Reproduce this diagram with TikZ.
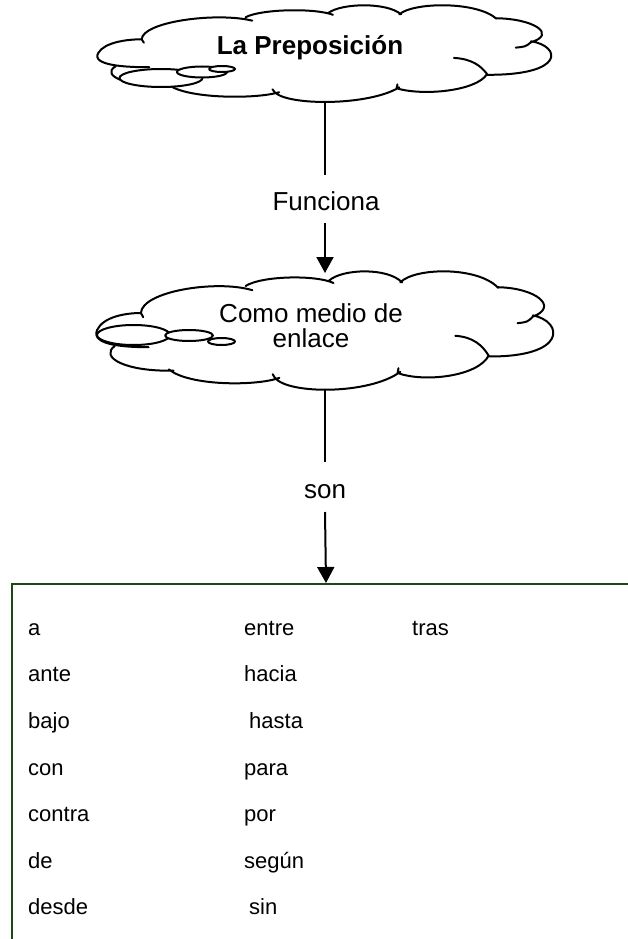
\documentclass[tikz,border=0pt]{standalone}
\usepackage{fontspec}
\setmainfont{Liberation Sans}
\usetikzlibrary{arrows.meta}
\definecolor{boxgreen}{RGB}{28,72,20}
\tikzset{
  cloudline/.style={line width=2pt, black, line join=round, line cap=round},
  conn/.style={line width=2pt, black},
  arr/.style={conn, -{Triangle[width=17pt,length=16pt]}},
  lbl/.style={font=\fontsize{26}{30}\selectfont, inner sep=0pt, anchor=base},
  word/.style={font=\fontsize{22}{26}\selectfont, inner sep=0pt, anchor=base west},
  bubble/.style={cloudline, fill=white},
}
\newcommand{\mycloudpath}{%
  (0.11,0.635) .. controls (0.06,0.635) and (-0.02,0.62) .. (-0.004,0.49)
   .. controls (0.01,0.38) and (0.06,0.35) .. (0.093,0.35)
  (0.093,0.35) -- (0.098,0.385)
  (0.093,0.35) .. controls (0.095,0.17) and (0.26,0.07) .. (0.34,0.16)
  (0.325,0.125) .. controls (0.36,0.04) and (0.48,0.03) .. (0.52,0.10)
  (0.51,0.08) .. controls (0.54,-0.02) and (0.64,-0.03) .. (0.672,0.095)
  (0.668,0.095) .. controls (0.70,-0.03) and (0.84,-0.04) .. (0.885,0.14)
  (0.883,0.135) .. controls (0.97,0.14) and (1.02,0.30) .. (0.962,0.38)
  (0.928,0.435) .. controls (0.95,0.425) .. (0.962,0.38)
  (0.962,0.37) .. controls (1.03,0.42) and (1.04,0.72) .. (0.862,0.712)
  (0.79,0.54) .. controls (0.83,0.55) and (0.85,0.62) .. (0.864,0.705)
  (0.864,0.705) .. controls (0.84,0.88) and (0.72,0.93) .. (0.662,0.85)
  (0.664,0.81) -- (0.662,0.85)
  (0.668,0.84) .. controls (0.60,1.03) and (0.42,1.03) .. (0.39,0.89)
  (0.385,0.86) -- (0.39,0.89)
  (0.40,0.89) .. controls (0.35,0.96) and (0.20,0.96) .. (0.155,0.82)
  (0.165,0.83) .. controls (0.06,0.84) and (0.0,0.72) .. (0.035,0.625)
}
\begin{document}
\begin{tikzpicture}[x=1pt,y=-1pt]
\useasboundingbox[fill=white] (0,0) rectangle (627,939);

% cloud 1
\begin{scope}[shift={(100,5)}, x=448pt, y=-98pt]
  \draw[cloudline] \mycloudpath;
\end{scope}
\draw[bubble] (161,78) ellipse [x radius=41.5pt, y radius=9pt];
\draw[bubble] (202,72) ellipse [x radius=25pt, y radius=5.5pt];
\draw[bubble] (222,69) ellipse [x radius=13pt, y radius=3pt];
\node[lbl, font=\fontsize{26}{30}\selectfont\bfseries] (title) at (310,55) {La Preposición};

% cloud 2
\begin{scope}[shift={(99,271)}, x=451pt, y=-120pt]
  \draw[cloudline] \mycloudpath;
\end{scope}
\draw[bubble] (133.5,335) ellipse [x radius=36.5pt, y radius=10pt];
\draw[bubble] (189,335.5) ellipse [x radius=24pt, y radius=5.5pt];
\draw[bubble] (221.5,341.5) ellipse [x radius=13.5pt, y radius=3.5pt];
\node[lbl] (como1) at (311,322) {Como medio de};
\node[lbl] (como2) at (311,347) {enlace};

% labels
\node[lbl] (funciona) at (326,210) {Funciona};
\node[lbl] (son) at (325,498) {son};

% box
\node[draw=boxgreen, line width=2pt, minimum width=628pt, minimum height=420pt,
      anchor=north west, inner sep=0pt] (box) at (11,583) {};

% connectors
\coordinate (c1b) at (325,102);
\coordinate (l1) at (325,175);
\draw[conn] (c1b) -- (l1);
\coordinate (a1s) at (325,223);
\coordinate (c2t) at (325,273);
\draw[arr] (a1s) -- (c2t);
\coordinate (c2b) at (325,390);
\coordinate (l2) at (325,462);
\draw[conn] (c2b) -- (l2);
\coordinate (a2s) at (325,512);
\draw[arr] (a2s) -- (box.north);

% words
\node[word] (w1) at (28,635) {a};
\node[word] (w2) at (28,681.5) {ante};
\node[word] (w3) at (28,728) {bajo};
\node[word] (w4) at (28,775) {con};
\node[word] (w5) at (28,821) {contra};
\node[word] (w6) at (28,868) {de};
\node[word] (w7) at (28,914) {desde};
\node[word] (w8) at (244,635) {entre};
\node[word] (w9) at (244,681.5) {hacia};
\node[word] (w10) at (249,728) {hasta};
\node[word] (w11) at (244,775) {para};
\node[word] (w12) at (244,821) {por};
\node[word] (w13) at (244,868) {según};
\node[word] (w14) at (249,914) {sin};
\node[word] (w15) at (412,635) {tras};
\end{tikzpicture}
\end{document}
